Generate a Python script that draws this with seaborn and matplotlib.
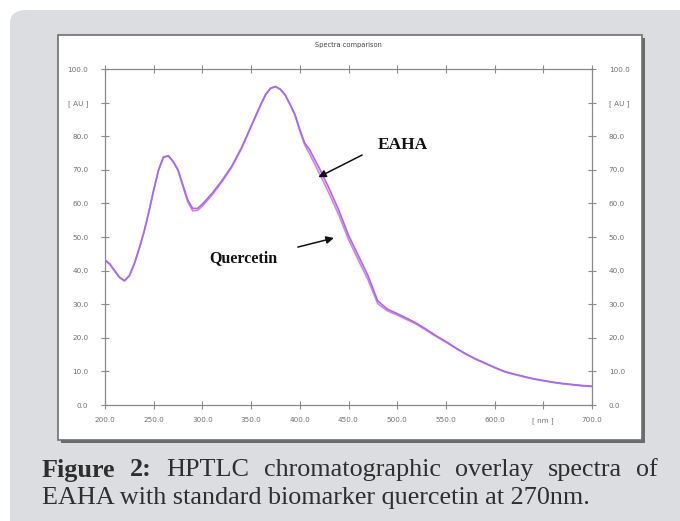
import numpy as np
import pandas as pd
import matplotlib
matplotlib.use("Agg")
import matplotlib.pyplot as plt
from matplotlib.patches import FancyBboxPatch, Rectangle
import seaborn as sns

# ---------------- data ----------------
wavelength = [200, 205, 210, 215, 220, 225, 230, 235, 240, 245, 250, 255, 260, 265,
              270, 275, 280, 285, 290, 295, 300, 310, 320, 330, 340, 350, 360, 365,
              370, 375, 380, 385, 390, 395, 400, 405, 410, 420, 430, 440, 450, 460,
              470, 480, 490, 500, 510, 520, 530, 540, 550, 560, 570, 580, 590, 600,
              610, 620, 630, 640, 650, 660, 670, 680, 690, 700]
eaha = [43.2, 42.0, 40.0, 38.0, 37.0, 38.5, 42.0, 46.5, 51.5, 57.5, 64.0, 70.0, 73.8, 74.2,
        72.5, 70.0, 65.5, 61.0, 58.5, 58.5, 59.8, 63.0, 66.8, 71.0, 76.5, 83.0, 89.5, 92.5,
        94.3, 94.8, 94.0, 92.3, 89.5, 86.5, 82.0, 78.0, 76.0, 70.5, 64.5, 58.0, 50.5, 44.5,
        38.5, 31.0, 28.5, 27.2, 25.8, 24.3, 22.5, 20.6, 18.9, 17.0, 15.3, 13.8, 12.5, 11.2,
        10.0, 9.2, 8.5, 7.8, 7.3, 6.8, 6.4, 6.1, 5.8, 5.6]
quercetin = [43.0, 41.8, 39.8, 37.9, 36.9, 38.4, 41.9, 46.4, 51.4, 57.4, 63.9, 69.9, 73.7, 74.1,
             72.4, 69.8, 65.0, 60.4, 57.8, 57.9, 59.2, 62.5, 66.4, 70.7, 76.2, 82.8, 89.3, 92.3,
             94.2, 94.7, 93.9, 92.2, 89.4, 86.3, 81.6, 77.4, 74.8, 69.0, 63.0, 56.6, 49.3, 43.2,
             37.3, 30.2, 28.0, 26.8, 25.4, 24.0, 22.2, 20.4, 18.7, 16.9, 15.2, 13.7, 12.4, 11.1,
             9.9, 9.1, 8.4, 7.7, 7.2, 6.7, 6.3, 6.0, 5.7, 5.5]
series_names = ["Quercetin", "EAHA"]
series_colors = ["#e07ce0", "#a06cf0"]

x_ticks = [200, 250, 300, 350, 400, 450, 500, 550, 600, 650, 700]
x_tick_labels = ["200.0", "250.0", "300.0", "350.0", "400.0", "450.0", "500.0",
                 "550.0", "600.0", "[ nm ]", "700.0"]
y_ticks = [0, 10, 20, 30, 40, 50, 60, 70, 80, 90, 100]
y_tick_labels = ["0.0", "10.0", "20.0", "30.0", "40.0", "50.0", "60.0", "70.0",
                 "80.0", "[ AU ]", "100.0"]

title_text = "Spectra comparison"
caption_line1_bold = ["Figure", "2:"]
caption_line1_rest = ["HPTLC", "chromatographic", "overlay", "spectra", "of"]
caption_line2 = "EAHA with standard biomarker quercetin at 270nm."

# ---------------- figure ----------------
W, H = 680, 521
sns.set_style("white")
plt.rcParams["font.family"] = ["DejaVu Sans"]

fig = plt.figure(figsize=(W / 100, H / 100), dpi=100, facecolor="white")


def fx(px):
    return px / W


def fy(py):
    return 1 - py / H


# grey card background with rounded corner
bg = FancyBboxPatch((fx(10), fy(540)), fx(700), fy(10) - fy(540),
                    boxstyle="round,pad=0,rounding_size=0.025",
                    transform=fig.transFigure, facecolor="#dcdde0",
                    edgecolor="none", zorder=0)
fig.patches.append(bg)

# shadow + white panel
shadow = Rectangle((fx(61), fy(443)), fx(642 - 58), fy(35) - fy(440),
                   transform=fig.transFigure, facecolor="#6a6a6a",
                   edgecolor="none", zorder=1)
fig.patches.append(shadow)
panel = Rectangle((fx(58), fy(440)), fx(642 - 58), fy(35) - fy(440),
                  transform=fig.transFigure, facecolor="white",
                  edgecolor="#707070", linewidth=1.2, zorder=2)
fig.patches.append(panel)

ax = fig.add_axes([fx(105), fy(405), fx(592 - 105), fy(69) - fy(405)])
ax.set_zorder(3)
ax.patch.set_alpha(0)

df = pd.DataFrame({
    "wavelength": wavelength * 2,
    "AU": quercetin + eaha,
    "sample": [series_names[0]] * len(wavelength) + [series_names[1]] * len(wavelength),
})
sns.lineplot(data=df, x="wavelength", y="AU", hue="sample",
             palette=dict(zip(series_names, series_colors)),
             hue_order=series_names, linewidth=1.2, legend=False, ax=ax)

ax.set_xlim(200, 700)
ax.set_ylim(0, 100)
ax.set_xlabel("")
ax.set_ylabel("")

spine_c = "#8a8a8a"
lab_c = "#707070"
for s in ax.spines.values():
    s.set_visible(True)
    s.set_color(spine_c)
    s.set_linewidth(0.9)

ax.set_xticks(x_ticks)
ax.set_xticklabels(x_tick_labels)
ax.set_yticks(y_ticks)
ax.set_yticklabels(y_tick_labels)
ax.tick_params(axis="both", which="both", direction="inout", length=6, width=0.8,
               color=spine_c, labelcolor=lab_c, labelsize=5.2)
ax.tick_params(axis="x", top=True, labeltop=False, bottom=True, pad=6)
ax.tick_params(axis="y", left=True, right=True, labelright=True, pad=9)

ax.set_title(title_text, fontsize=4.8, color="#444444", pad=16)

# annotations
serif = ["Liberation Serif", "DejaVu Serif"]
ax.text(480, 77.4, "EAHA", fontsize=12.5, fontweight="bold", family=serif,
        color="#111111", ha="left", va="center")
ax.annotate("", xy=(419, 67.8), xytext=(464, 74.4),
            arrowprops=dict(arrowstyle="-|>", color="#111111", lw=1.1,
                            mutation_scale=11, shrinkA=0, shrinkB=0))
ax.text(342.5, 43.8, "Quercetin", fontsize=11.5, fontweight="bold", family=serif,
        color="#111111", ha="center", va="center")
ax.annotate("", xy=(435, 49.7), xytext=(398, 47.0),
            arrowprops=dict(arrowstyle="-|>", color="#111111", lw=1.1,
                            mutation_scale=11, shrinkA=0, shrinkB=0))

# caption, first line justified
cap_size = 18.8
cap_color = "#2e2e2e"
renderer = fig.canvas.get_renderer()
words = [(w, "bold") for w in caption_line1_bold] + [(w, "normal") for w in caption_line1_rest]
texts = []
widths = []
for w, wt in words:
    t = fig.text(0, fy(470), w, fontsize=cap_size, fontweight=wt, family=serif,
                 color=cap_color, ha="left", va="center")
    texts.append(t)
    widths.append(t.get_window_extent(renderer).width)
left_px, right_px = 42, 658
gap = (right_px - left_px - sum(widths)) / (len(words) - 1)
xpos = left_px
for t, wd in zip(texts, widths):
    t.set_x(fx(xpos))
    xpos += wd + gap

fig.text(fx(42), fy(498), caption_line2, fontsize=cap_size, family=serif,
         color=cap_color, ha="left", va="center")

fig.savefig("out.png", dpi=100, facecolor="white")
